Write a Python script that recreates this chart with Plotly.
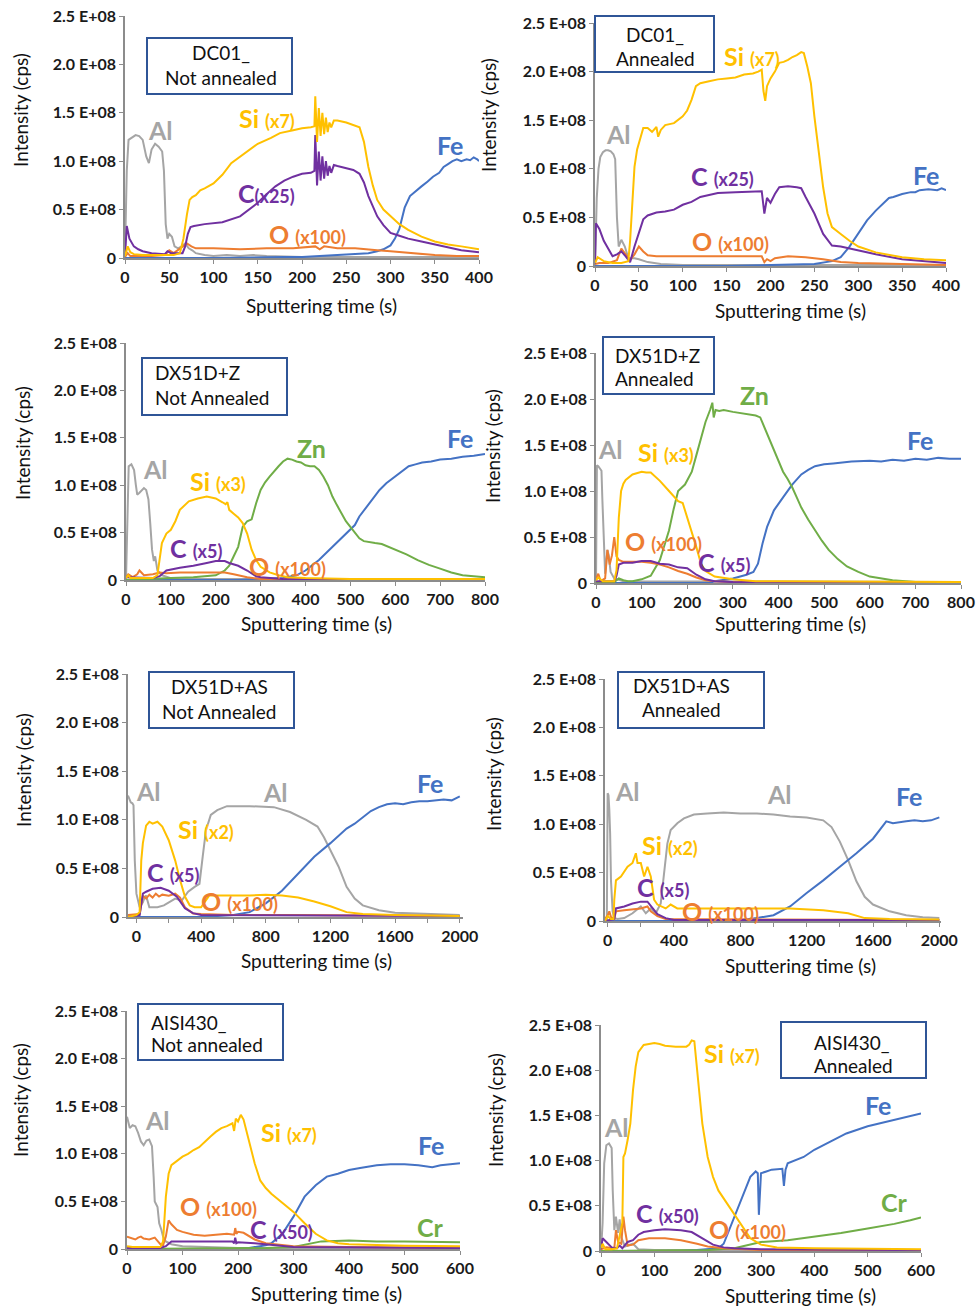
import plotly.graph_objects as go

W, H = 978, 1309
FONT = "Lato"
COL = {"Al": "#A5A5A5", "Si": "#FFC000", "C": "#7030A0", "O": "#ED7D31",
       "Fe": "#4472C4", "Zn": "#70AD47", "Cr": "#70AD47"}
SCALE = 1e8  # values below are in units of 1E+08 cps

y_tickvals = [0, 0.5, 1.0, 1.5, 2.0, 2.5]
y_ticktext = ["0", "0.5 E+08", "1.0 E+08", "1.5 E+08", "2.0 E+08", "2.5 E+08"]

# ---------------- Panel 1: DC01_ Not annealed ----------------
p1_al_t = [0, 2, 4, 8, 12, 16, 20, 24, 27, 30, 34, 38, 42, 44, 46, 48, 50, 53, 56, 60, 64, 68, 72, 76, 80, 90, 100, 115, 130, 145, 160, 200, 300, 400]
p1_al = [0.05, 0.9, 1.22, 1.25, 1.27, 1.26, 1.22, 1.05, 0.98, 1.12, 1.18, 1.15, 1.1, 0.9, 0.35, 0.2, 0.25, 0.22, 0.12, 0.1, 0.12, 0.15, 0.1, 0.08, 0.05, 0.03, 0.02, 0.03, 0.02, 0.03, 0.02, 0.01, 0.01, 0.01]
p1_si_t = [0, 3, 6, 10, 20, 40, 55, 62, 66, 70, 73, 76, 80, 85, 90, 100, 110, 120, 135, 150, 165, 175, 190, 200, 210, 214, 215, 217, 219, 221, 223, 225, 227, 229, 231, 233, 236, 240, 250, 260, 265, 270, 275, 280, 285, 292, 300, 310, 320, 335, 350, 365, 380, 400]
p1_si = [0.02, 0.12, 0.06, 0.04, 0.03, 0.03, 0.03, 0.05, 0.2, 0.45, 0.6, 0.63, 0.65, 0.7, 0.72, 0.77, 0.86, 0.98, 1.08, 1.18, 1.24, 1.29, 1.32, 1.34, 1.35, 1.36, 1.67, 1.2, 1.55, 1.26, 1.5, 1.28, 1.45, 1.3, 1.4, 1.35, 1.42, 1.42, 1.4, 1.37, 1.35, 1.2, 0.94, 0.75, 0.6, 0.5, 0.43, 0.35, 0.29, 0.22, 0.17, 0.14, 0.12, 0.09]
p1_c_t = [0, 2, 5, 10, 15, 20, 30, 45, 48, 52, 60, 65, 68, 71, 74, 78, 90, 110, 130, 140, 150, 160, 170, 180, 190, 200, 210, 214, 215, 217, 219, 221, 223, 225, 227, 229, 231, 233, 236, 240, 250, 258, 265, 270, 275, 280, 285, 292, 300, 310, 320, 335, 350, 365, 380, 400]
p1_c = [0.02, 0.33, 0.2, 0.12, 0.09, 0.07, 0.05, 0.04, 0.07, 0.05, 0.05, 0.05, 0.12, 0.25, 0.32, 0.33, 0.35, 0.37, 0.43, 0.5, 0.57, 0.66, 0.74, 0.8, 0.84, 0.87, 0.88, 0.9, 1.27, 0.75, 1.1, 0.8, 1.05, 0.82, 1.0, 0.85, 0.95, 0.88, 0.96, 0.95, 0.93, 0.91, 0.87, 0.78, 0.64, 0.53, 0.43, 0.34, 0.26, 0.23, 0.2, 0.17, 0.14, 0.11, 0.08, 0.06]
p1_o_t = [0, 3, 6, 15, 30, 45, 50, 55, 62, 70, 75, 80, 100, 130, 160, 190, 215, 220, 225, 240, 260, 270, 285, 300, 325, 350, 375, 400]
p1_o = [0.01, 0.05, 0.02, 0.02, 0.02, 0.03, 0.08, 0.05, 0.1, 0.15, 0.12, 0.1, 0.1, 0.09, 0.1, 0.1, 0.12, 0.09, 0.12, 0.1, 0.1, 0.09, 0.08, 0.07, 0.05, 0.03, 0.02, 0.02]
p1_fe_t = [0, 100, 180, 200, 220, 240, 260, 275, 285, 292, 300, 305, 310, 316, 322, 328, 335, 342, 348, 355, 360, 365, 370, 375, 380, 386, 390, 394, 398, 400]
p1_fe = [0.0, 0.0, 0.01, 0.01, 0.02, 0.03, 0.04, 0.05, 0.07, 0.09, 0.13, 0.2, 0.3, 0.52, 0.64, 0.69, 0.74, 0.79, 0.84, 0.88, 0.94, 0.97, 1.0, 1.02, 1.0, 1.02, 1.01, 1.04, 1.02, 1.0]

# ---------------- Panel 2: DC01_ Annealed ----------------
p2_al_t = [0, 2, 4, 6, 9, 12, 15, 18, 21, 23, 25, 27, 30, 34, 38, 45, 50, 60, 75, 100, 200, 400]
p2_al = [0.0, 0.7, 1.0, 1.12, 1.17, 1.19, 1.19, 1.18, 1.15, 1.1, 0.5, 0.2, 0.27, 0.2, 0.08, 0.08, 0.07, 0.04, 0.02, 0.01, 0.01, 0.01]
p2_si_t = [0, 3, 10, 20, 30, 38, 40, 42, 45, 48, 51, 55, 60, 65, 70, 72, 75, 80, 90, 100, 105, 110, 115, 120, 130, 140, 150, 160, 170, 180, 186, 190, 192, 194, 196, 200, 205, 210, 215, 220, 225, 230, 235, 238, 242, 246, 250, 255, 260, 265, 270, 280, 290, 300, 320, 350, 375, 400]
p2_si = [0.03, 0.09, 0.05, 0.03, 0.03, 0.05, 0.26, 0.6, 1.02, 1.2, 1.3, 1.42, 1.42, 1.38, 1.43, 1.33, 1.4, 1.45, 1.47, 1.54, 1.6, 1.71, 1.85, 1.88, 1.9, 1.92, 1.93, 1.94, 1.97, 1.98, 2.0, 2.02, 1.8, 1.7, 1.85, 1.93, 2.0, 2.09, 2.1, 2.12, 2.15, 2.17, 2.2, 2.19, 2.05, 1.88, 1.54, 1.19, 0.81, 0.54, 0.4, 0.33, 0.26, 0.2, 0.14, 0.09, 0.07, 0.06]
p2_c_t = [0, 1, 5, 10, 15, 20, 25, 30, 35, 40, 45, 50, 55, 60, 70, 80, 90, 100, 110, 120, 130, 140, 160, 180, 190, 193, 196, 200, 205, 210, 220, 230, 235, 240, 250, 260, 270, 280, 290, 300, 320, 350, 375, 400]
p2_c = [0.02, 0.44, 0.38, 0.26, 0.18, 0.1, 0.12, 0.15, 0.1, 0.04, 0.2, 0.33, 0.48, 0.52, 0.55, 0.56, 0.58, 0.63, 0.66, 0.71, 0.73, 0.75, 0.76, 0.77, 0.77, 0.54, 0.7, 0.65, 0.74, 0.81, 0.82, 0.81, 0.8, 0.71, 0.54, 0.33, 0.21, 0.2, 0.18, 0.16, 0.12, 0.07, 0.05, 0.03]
p2_o_t = [0, 5, 15, 25, 30, 35, 40, 45, 50, 55, 60, 70, 100, 150, 190, 193, 196, 200, 205, 220, 240, 260, 280, 300, 350, 400]
p2_o = [0.02, 0.03, 0.03, 0.06, 0.18, 0.12, 0.06, 0.12, 0.2, 0.15, 0.11, 0.1, 0.1, 0.1, 0.1, 0.04, 0.07, 0.05, 0.08, 0.1, 0.09, 0.07, 0.04, 0.03, 0.02, 0.01]
p2_fe_t = [0, 150, 200, 250, 270, 280, 290, 300, 310, 320, 330, 335, 340, 350, 360, 365, 370, 380, 390, 395, 400]
p2_fe = [0.0, 0.0, 0.01, 0.02, 0.05, 0.09, 0.2, 0.33, 0.47, 0.57, 0.66, 0.7, 0.71, 0.74, 0.76, 0.76, 0.78, 0.79, 0.78, 0.8, 0.78]

# ---------------- Panel 3: DX51D+Z Not Annealed ----------------
p3_al_t = [0, 3, 6, 12, 18, 22, 25, 30, 35, 40, 45, 50, 54, 58, 62, 65, 70, 80, 100, 150, 800]
p3_al = [0.0, 0.8, 1.2, 1.22, 1.16, 1.0, 0.9, 0.92, 0.95, 0.97, 0.95, 0.85, 0.6, 0.32, 0.2, 0.25, 0.1, 0.05, 0.02, 0.01, 0.01]
p3_si_t = [0, 5, 10, 60, 70, 75, 80, 90, 100, 110, 120, 140, 160, 180, 200, 215, 222, 226, 230, 240, 250, 260, 270, 280, 290, 300, 320, 340, 360, 400, 500, 800]
p3_si = [0.02, 0.05, 0.02, 0.02, 0.05, 0.2, 0.39, 0.49, 0.53, 0.62, 0.74, 0.83, 0.86, 0.88, 0.86, 0.82, 0.8, 0.82, 0.74, 0.7, 0.66, 0.6, 0.49, 0.32, 0.21, 0.14, 0.08, 0.05, 0.03, 0.02, 0.01, 0.01]
p3_c_t = [0, 60, 75, 80, 90, 120, 150, 180, 200, 220, 230, 250, 270, 290, 300, 350, 800]
p3_c = [0.03, 0.02, 0.04, 0.06, 0.1, 0.13, 0.15, 0.18, 0.2, 0.2, 0.18, 0.15, 0.1, 0.04, 0.03, 0.01, 0.0]
p3_o_t = [0, 5, 15, 25, 30, 35, 40, 60, 75, 90, 120, 180, 220, 240, 270, 300, 800]
p3_o = [0.03, 0.06, 0.03, 0.06, 0.1, 0.08, 0.05, 0.06, 0.08, 0.07, 0.08, 0.08, 0.08, 0.06, 0.03, 0.01, 0.01]
p3_zn_t = [0, 80, 100, 150, 200, 220, 230, 240, 250, 260, 270, 280, 290, 300, 310, 320, 330, 340, 350, 360, 370, 380, 390, 400, 410, 420, 430, 440, 450, 460, 470, 480, 490, 500, 510, 520, 530, 540, 555, 570, 585, 600, 625, 650, 675, 700, 725, 750, 775, 800]
p3_zn = [0.0, 0.01, 0.02, 0.03, 0.05, 0.1, 0.15, 0.25, 0.35, 0.56, 0.62, 0.64, 0.81, 0.95, 1.03, 1.09, 1.15, 1.2, 1.25, 1.28, 1.27, 1.25, 1.24, 1.21, 1.2, 1.2, 1.16, 1.09, 1.0, 0.88, 0.79, 0.7, 0.62, 0.56, 0.5, 0.44, 0.41, 0.4, 0.39, 0.38, 0.35, 0.32, 0.27, 0.21, 0.16, 0.12, 0.08, 0.05, 0.04, 0.03]
p3_fe_t = [0, 250, 300, 350, 380, 400, 430, 460, 480, 500, 510, 520, 535, 550, 565, 580, 600, 615, 630, 645, 660, 680, 700, 725, 750, 775, 800]
p3_fe = [0.0, 0.0, 0.01, 0.02, 0.05, 0.1, 0.21, 0.35, 0.44, 0.53, 0.58, 0.67, 0.76, 0.85, 0.95, 1.02, 1.09, 1.15, 1.2, 1.22, 1.24, 1.25, 1.27, 1.28, 1.3, 1.31, 1.33]

# ---------------- Panel 4: DX51D+Z Annealed ----------------
p4_al_t = [0, 2, 5, 8, 12, 14, 16, 18, 20, 23, 25, 28, 32, 40, 60, 800]
p4_al = [0.0, 1.28, 1.27, 1.25, 1.22, 0.9, 0.57, 0.2, 0.1, 0.25, 0.36, 0.3, 0.12, 0.05, 0.02, 0.01]
p4_si_t = [0, 5, 15, 40, 45, 50, 55, 60, 65, 80, 100, 110, 120, 140, 160, 180, 190, 200, 210, 220, 230, 240, 260, 300, 350, 400, 800]
p4_si = [0.03, 0.06, 0.02, 0.02, 0.14, 0.71, 1.0, 1.08, 1.12, 1.18, 1.21, 1.2, 1.2, 1.11, 1.0, 0.89, 0.87, 0.71, 0.57, 0.39, 0.21, 0.13, 0.07, 0.04, 0.02, 0.02, 0.01]
p4_o_t = [0, 5, 10, 20, 25, 30, 35, 40, 45, 50, 60, 80, 100, 120, 140, 160, 180, 200, 220, 240, 260, 300, 800]
p4_o = [0.05, 0.1, 0.02, 0.05, 0.36, 0.2, 0.3, 0.5, 0.29, 0.25, 0.23, 0.23, 0.23, 0.22, 0.2, 0.17, 0.13, 0.1, 0.06, 0.03, 0.02, 0.01, 0.01]
p4_c_t = [0, 40, 45, 50, 60, 80, 100, 120, 140, 160, 180, 200, 220, 240, 260, 300, 800]
p4_c = [0.02, 0.02, 0.08, 0.2, 0.22, 0.22, 0.24, 0.24, 0.21, 0.2, 0.17, 0.16, 0.09, 0.04, 0.02, 0.01, 0.0]
p4_zn_t = [0, 40, 50, 60, 70, 80, 100, 120, 140, 150, 160, 170, 180, 195, 210, 220, 230, 240, 250, 255, 258, 262, 270, 280, 300, 330, 350, 360, 370, 380, 390, 400, 410, 420, 430, 440, 450, 465, 480, 495, 510, 530, 550, 575, 600, 650, 700, 800]
p4_zn = [0.0, 0.01, 0.05, 0.03, 0.02, 0.02, 0.04, 0.08, 0.25, 0.4, 0.57, 0.8, 1.0, 1.07, 1.21, 1.39, 1.57, 1.75, 1.88, 1.96, 1.8, 1.88, 1.87, 1.88, 1.86, 1.84, 1.82, 1.8, 1.68, 1.56, 1.43, 1.32, 1.21, 1.13, 1.04, 0.93, 0.82, 0.69, 0.57, 0.46, 0.36, 0.26, 0.18, 0.12, 0.07, 0.03, 0.01, 0.01]
p4_fe_t = [0, 250, 260, 300, 330, 345, 355, 365, 375, 390, 410, 430, 450, 465, 480, 500, 520, 560, 600, 625, 650, 675, 700, 725, 750, 775, 800]
p4_fe = [0.0, 0.0, 0.02, 0.05, 0.09, 0.12, 0.21, 0.43, 0.61, 0.79, 0.93, 1.07, 1.18, 1.23, 1.27, 1.29, 1.3, 1.32, 1.33, 1.32, 1.34, 1.33, 1.35, 1.34, 1.36, 1.35, 1.35]

# ---------------- Panel 5: DX51D+AS Not Annealed ----------------
p5_al_t = [-52, -45, -35, -25, -18, -10, 0, 20, 40, 50, 60, 80, 130, 170, 200, 240, 280, 320, 360, 390, 410, 430, 460, 500, 560, 700, 850, 950, 1050, 1120, 1160, 1200, 1250, 1300, 1350, 1400, 1500, 1600, 1800, 2000]
p5_al = [1.25, 1.22, 1.18, 1.17, 1.15, 0.58, 0.24, 0.1, 0.15, 0.2, 0.22, 0.1, 0.1, 0.12, 0.15, 0.19, 0.17, 0.26, 0.31, 0.34, 0.62, 0.89, 1.05, 1.1, 1.14, 1.14, 1.13, 1.08, 1.0, 0.93, 0.82, 0.69, 0.52, 0.31, 0.19, 0.12, 0.07, 0.045, 0.03, 0.02]
p5_si_t = [-52, 0, 20, 30, 40, 60, 80, 100, 130, 160, 200, 240, 270, 300, 330, 360, 400, 430, 450, 500, 600, 700, 800, 900, 1000, 1100, 1200, 1300, 1400, 1600, 2000]
p5_si = [0.0, 0.02, 0.05, 0.58, 0.76, 0.94, 0.98, 0.96, 0.98, 0.93, 0.79, 0.58, 0.38, 0.21, 0.12, 0.1, 0.1, 0.17, 0.22, 0.22, 0.22, 0.22, 0.23, 0.22, 0.2, 0.16, 0.11, 0.05, 0.03, 0.02, 0.01]
p5_c_t = [-52, 20, 40, 60, 100, 150, 200, 250, 300, 350, 400, 2000]
p5_c = [0.0, 0.02, 0.24, 0.26, 0.29, 0.3, 0.27, 0.21, 0.09, 0.04, 0.02, 0.01]
p5_o_t = [-52, 20, 40, 60, 80, 100, 120, 140, 160, 200, 240, 270, 300, 350, 400, 600, 1000, 2000]
p5_o = [0.02, 0.03, 0.22, 0.19, 0.23, 0.2, 0.24, 0.21, 0.23, 0.22, 0.24, 0.2, 0.1, 0.035, 0.03, 0.02, 0.02, 0.01]
p5_fe_t = [-52, 400, 500, 600, 700, 800, 900, 1000, 1100, 1200, 1300, 1350, 1400, 1450, 1500, 1550, 1600, 1650, 1700, 1750, 1800, 1850, 1900, 1950, 2000]
p5_fe = [0.0, 0.0, 0.01, 0.02, 0.05, 0.14, 0.27, 0.45, 0.62, 0.76, 0.91, 0.96, 1.03, 1.09, 1.13, 1.16, 1.17, 1.16, 1.18, 1.19, 1.19, 1.2, 1.21, 1.2, 1.24]

# ---------------- Panel 6: DX51D+AS Annealed ----------------
p6_al_t = [-16, -5, 0, 5, 10, 15, 20, 25, 30, 40, 60, 100, 150, 200, 230, 260, 290, 320, 340, 360, 380, 420, 460, 520, 600, 700, 800, 900, 1000, 1100, 1200, 1300, 1350, 1400, 1450, 1500, 1550, 1600, 1700, 1800, 1900, 2000]
p6_al = [0.0, 0.0, 1.32, 1.3, 1.15, 0.9, 0.42, 0.3, 0.1, 0.03, 0.02, 0.03, 0.08, 0.15, 0.08, 0.13, 0.08, 0.18, 0.46, 0.8, 0.94, 1.01, 1.06, 1.1, 1.11, 1.12, 1.11, 1.11, 1.1, 1.08, 1.07, 1.04, 0.97, 0.82, 0.63, 0.41, 0.25, 0.17, 0.1, 0.06, 0.04, 0.03]
p6_si_t = [-16, 0, 20, 35, 40, 50, 80, 120, 150, 170, 180, 200, 220, 240, 260, 280, 300, 350, 380, 420, 500, 800, 1100, 1300, 1450, 1550, 1700, 2000]
p6_si = [0.0, 0.05, 0.02, 0.02, 0.22, 0.42, 0.46, 0.56, 0.6, 0.7, 0.6, 0.6, 0.46, 0.56, 0.46, 0.22, 0.17, 0.13, 0.17, 0.13, 0.13, 0.13, 0.13, 0.11, 0.08, 0.03, 0.02, 0.015]
p6_c_t = [-16, 40, 50, 100, 150, 200, 240, 270, 300, 350, 400, 2000]
p6_c = [0.0, 0.02, 0.13, 0.15, 0.18, 0.2, 0.2, 0.13, 0.07, 0.03, 0.01, 0.01]
p6_o_t = [-16, 0, 10, 20, 40, 50, 100, 150, 200, 240, 260, 300, 350, 2000]
p6_o = [0.02, 0.06, 0.1, 0.04, 0.02, 0.1, 0.11, 0.12, 0.13, 0.15, 0.1, 0.05, 0.02, 0.01]
p6_fe_t = [-16, 700, 800, 900, 1000, 1100, 1200, 1300, 1400, 1500, 1600, 1650, 1680, 1720, 1750, 1800, 1850, 1900, 1950, 2000]
p6_fe = [0.0, 0.0, 0.01, 0.03, 0.06, 0.15, 0.29, 0.42, 0.56, 0.7, 0.85, 0.97, 1.03, 1.01, 1.02, 1.03, 1.04, 1.03, 1.04, 1.07]

# ---------------- Panel 7: AISI430_ Not annealed ----------------
p7_al_t = [0, 5, 10, 15, 20, 25, 30, 35, 40, 45, 48, 50, 55, 58, 62, 65, 70, 80, 100, 150, 200, 600]
p7_al = [1.39, 1.27, 1.3, 1.29, 1.22, 1.13, 1.09, 1.14, 1.15, 1.08, 0.76, 0.5, 0.44, 0.27, 0.2, 0.13, 0.08, 0.05, 0.03, 0.02, 0.01, 0.01]
p7_si_t = [0, 10, 60, 65, 70, 75, 80, 90, 100, 110, 120, 130, 140, 150, 160, 170, 180, 190, 193, 196, 200, 205, 210, 220, 230, 240, 250, 260, 280, 300, 320, 340, 360, 380, 400, 450, 500, 600]
p7_si = [0.03, 0.02, 0.02, 0.08, 0.55, 0.79, 0.88, 0.93, 0.97, 1.0, 1.04, 1.07, 1.13, 1.18, 1.23, 1.27, 1.29, 1.32, 1.24, 1.37, 1.34, 1.41, 1.36, 1.14, 0.9, 0.72, 0.64, 0.58, 0.48, 0.39, 0.27, 0.16, 0.09, 0.06, 0.05, 0.04, 0.035, 0.03]
p7_o_t = [0, 5, 10, 15, 20, 25, 30, 40, 50, 60, 65, 70, 75, 80, 90, 100, 120, 140, 160, 180, 193, 195, 197, 200, 210, 230, 250, 280, 300, 400, 600]
p7_o = [0.13, 0.12, 0.11, 0.1, 0.12, 0.13, 0.11, 0.1, 0.12, 0.05, 0.04, 0.13, 0.3, 0.26, 0.2, 0.18, 0.15, 0.14, 0.15, 0.16, 0.15, 0.22, 0.16, 0.18, 0.17, 0.1, 0.06, 0.04, 0.03, 0.02, 0.01]
p7_c_t = [0, 60, 70, 80, 100, 150, 190, 193, 195, 197, 200, 230, 260, 300, 600]
p7_c = [0.01, 0.01, 0.03, 0.08, 0.08, 0.08, 0.08, 0.06, 0.12, 0.06, 0.07, 0.06, 0.04, 0.02, 0.01]
p7_fe_t = [0, 200, 220, 250, 260, 280, 300, 320, 340, 360, 380, 400, 420, 450, 475, 500, 525, 550, 565, 580, 600]
p7_fe = [0.0, 0.0, 0.01, 0.04, 0.06, 0.16, 0.34, 0.55, 0.67, 0.76, 0.79, 0.83, 0.85, 0.88, 0.89, 0.89, 0.88, 0.86, 0.88, 0.89, 0.9]
p7_cr_t = [0, 250, 300, 350, 400, 450, 500, 600]
p7_cr = [0.0, 0.01, 0.02, 0.08, 0.09, 0.08, 0.08, 0.07]

# ---------------- Panel 8: AISI430_ Annealed ----------------
p8_al_t = [0, 3, 6, 10, 15, 20, 22, 25, 28, 32, 35, 38, 45, 60, 70, 100, 600]
p8_al = [0.0, 0.31, 0.97, 1.17, 1.19, 1.14, 0.67, 0.23, 0.38, 0.2, 0.35, 0.15, 0.05, 0.08, 0.02, 0.01, 0.01]
p8_si_t = [0, 3, 8, 20, 30, 40, 42, 45, 50, 55, 60, 65, 70, 80, 90, 100, 110, 120, 140, 160, 165, 170, 175, 180, 190, 200, 210, 220, 240, 260, 280, 300, 330, 400, 600]
p8_si = [0.03, 0.08, 0.02, 0.02, 0.03, 0.31, 1.04, 1.08, 1.23, 1.41, 1.78, 2.04, 2.2, 2.28, 2.29, 2.3, 2.29, 2.27, 2.26, 2.26, 2.28, 2.33, 2.32, 2.04, 1.41, 1.04, 0.82, 0.67, 0.49, 0.31, 0.14, 0.07, 0.04, 0.03, 0.02]
p8_c_t = [0, 3, 10, 20, 30, 35, 40, 50, 60, 70, 80, 100, 120, 150, 170, 190, 210, 230, 250, 300, 600]
p8_c = [0.02, 0.14, 0.1, 0.04, 0.03, 0.06, 0.03, 0.1, 0.12, 0.18, 0.21, 0.23, 0.24, 0.23, 0.21, 0.14, 0.07, 0.04, 0.03, 0.02, 0.01]
p8_o_t = [0, 10, 25, 28, 32, 38, 42, 45, 50, 60, 70, 90, 120, 150, 180, 200, 230, 260, 300, 600]
p8_o = [0.02, 0.04, 0.03, 0.23, 0.1, 0.08, 0.38, 0.23, 0.06, 0.07, 0.12, 0.14, 0.14, 0.12, 0.08, 0.05, 0.03, 0.02, 0.01, 0.01]
p8_fe_t = [0, 150, 180, 220, 230, 240, 250, 260, 270, 280, 290, 294, 296, 300, 310, 320, 340, 343, 346, 350, 380, 400, 430, 460, 500, 550, 600]
p8_fe = [0.0, 0.0, 0.01, 0.03, 0.08, 0.23, 0.38, 0.53, 0.67, 0.82, 0.88, 0.86, 0.4, 0.86, 0.88, 0.9, 0.91, 0.72, 0.9, 0.97, 1.04, 1.12, 1.21, 1.3, 1.38, 1.45, 1.52]
p8_cr_t = [0, 200, 250, 300, 350, 400, 450, 500, 550, 580, 600]
p8_cr = [0.0, 0.01, 0.03, 0.1, 0.12, 0.16, 0.2, 0.25, 0.3, 0.34, 0.37]

# ---------------- text ----------------
box_titles = [("DC01_", "Not annealed"), ("DC01_", "Annealed"),
              ("DX51D+Z", "Not Annealed"), ("DX51D+Z", "Annealed"),
              ("DX51D+AS", "Not Annealed"), ("DX51D+AS", "Annealed"),
              ("AISI430_", "Not annealed"), ("AISI430_", "Annealed")]

series = [
    [("Al", p1_al_t, p1_al), ("Fe", p1_fe_t, p1_fe), ("O", p1_o_t, p1_o), ("C", p1_c_t, p1_c), ("Si", p1_si_t, p1_si)],
    [("Al", p2_al_t, p2_al), ("Fe", p2_fe_t, p2_fe), ("O", p2_o_t, p2_o), ("C", p2_c_t, p2_c), ("Si", p2_si_t, p2_si)],
    [("Al", p3_al_t, p3_al), ("Fe", p3_fe_t, p3_fe), ("Zn", p3_zn_t, p3_zn), ("O", p3_o_t, p3_o), ("C", p3_c_t, p3_c), ("Si", p3_si_t, p3_si)],
    [("Al", p4_al_t, p4_al), ("Fe", p4_fe_t, p4_fe), ("Zn", p4_zn_t, p4_zn), ("O", p4_o_t, p4_o), ("C", p4_c_t, p4_c), ("Si", p4_si_t, p4_si)],
    [("Al", p5_al_t, p5_al), ("Fe", p5_fe_t, p5_fe), ("O", p5_o_t, p5_o), ("C", p5_c_t, p5_c), ("Si", p5_si_t, p5_si)],
    [("Al", p6_al_t, p6_al), ("Fe", p6_fe_t, p6_fe), ("O", p6_o_t, p6_o), ("C", p6_c_t, p6_c), ("Si", p6_si_t, p6_si)],
    [("Al", p7_al_t, p7_al), ("Fe", p7_fe_t, p7_fe), ("Cr", p7_cr_t, p7_cr), ("O", p7_o_t, p7_o), ("C", p7_c_t, p7_c), ("Si", p7_si_t, p7_si)],
    [("Al", p8_al_t, p8_al), ("Fe", p8_fe_t, p8_fe), ("Cr", p8_cr_t, p8_cr), ("O", p8_o_t, p8_o), ("C", p8_c_t, p8_c), ("Si", p8_si_t, p8_si)],
]

# ---------------- layout geometry (pixels) ----------------
frames = [
    dict(l=125, r=479, t=16, b=258, xr=[0, 400], dt=50, minor=None),
    dict(l=595, r=946, t=23, b=266, xr=[0, 400], dt=50, minor=None),
    dict(l=126, r=485, t=343, b=580, xr=[0, 800], dt=100, minor=None),
    dict(l=596, r=961, t=353, b=583, xr=[0, 800], dt=100, minor=None),
    dict(l=128, r=463, t=674, b=917, xr=[-52, 2020], dt=400, minor=200),
    dict(l=605, r=941, t=679, b=921, xr=[-16, 2010], dt=400, minor=200),
    dict(l=127, r=460, t=1011, b=1249, xr=[0, 600], dt=100, minor=None),
    dict(l=601, r=921, t=1025, b=1251, xr=[0, 600], dt=100, minor=None),
]
boxes = [  # x0, y0, x1, y1, text anchor mode, text x, line1 y, line2 y
    (147, 38, 292, 94, "center", 221, 52, 77),
    (595, 16, 714, 72, "center", 655, 34, 58),
    (142, 358, 287, 415, "left", 153, 372, 397),
    (603, 337, 714, 394, "left", 613, 355, 379),
    (149, 672, 294, 728, "center", 219, 686, 711),
    (618, 672, 764, 728, "center", 681, 685, 709),
    (138, 1004, 283, 1060, "left", 149, 1022, 1044),
    (781, 1022, 926, 1078, "left", 812, 1042, 1065),
]
ytitle_pos = [(20, 110), (489, 115), (22, 443), (492, 446), (23, 770), (493, 774), (20, 1100), (495, 1110)]
xtitle_pos = [(321, 305), (790, 310), (316, 623), (790, 623), (316, 960), (800, 965), (326, 1293), (800, 1295)]

def lab(el, mult=None, gap=True):
    s = el
    if mult:
        s += (" " if gap else "") + "<span style='font-size:18px'>(" + mult + ")</span>"
    return s

labels = [
    [("Al", None, 160, 130), ("Si", "x7", 267, 118), ("C", "x25", 266, 193, False), ("O", "x100", 307, 234), ("Fe", None, 450, 145)],
    [("Al", None, 618, 134), ("Si", "x7", 752, 56), ("C", "x25", 722, 176), ("O", "x100", 730, 241), ("Fe", None, 926, 175)],
    [("Al", None, 155, 469), ("Si", "x3", 218, 481), ("C", "x5", 196, 548), ("O", "x100", 287, 566), ("Zn", None, 311, 448), ("Fe", None, 460, 438)],
    [("Al", None, 610, 449), ("Si", "x3", 666, 452), ("O", "x100", 663, 541), ("C", "x5", 724, 562), ("Zn", None, 754, 395), ("Fe", None, 920, 440)],
    [("Al", None, 148, 791), ("Si", "x2", 206, 829), ("C", "x5", 173, 872), ("O", "x100", 239, 901), ("Al", None, 275, 792), ("Fe", None, 430, 783)],
    [("Al", None, 627, 791), ("Si", "x2", 670, 845), ("C", "x5", 663, 887), ("O", "x100", 720, 911), ("Al", None, 779, 794), ("Fe", None, 909, 796)],
    [("Al", None, 157, 1120), ("Si", "x7", 289, 1132), ("O", "x100", 218, 1206), ("C", "x50", 281, 1229), ("Fe", None, 431, 1145), ("Cr", None, 430, 1227)],
    [("Al", None, 616, 1127), ("Si", "x7", 732, 1053), ("C", "x50", 667, 1213), ("O", "x100", 747, 1229), ("Fe", None, 878, 1105), ("Cr", None, 894, 1202)],
]

def px(x):
    return x / W

def py(y):
    return 1 - y / H

fig = go.Figure()
layout = dict(width=W, height=H, autosize=False, margin=dict(l=0, r=0, t=0, b=0, pad=0, autoexpand=False),
              paper_bgcolor="white", plot_bgcolor="white", showlegend=False,
              font=dict(family=FONT, size=17, color="#1a1a1a"))
annotations = []
shapes = []
AXC = "#8C8C8C"
TICKFONT = dict(family=FONT, size=16, color="#1a1a1a", weight="bold")

for i, (fr, ser) in enumerate(zip(frames, series)):
    n = "" if i == 0 else str(i + 1)
    xa, ya = "x" + n, "y" + n
    for name, t, v in ser:
        fig.add_trace(go.Scatter(x=t, y=[val * SCALE for val in v], mode="lines",
                                 line=dict(color=COL[name], width=2), xaxis=xa, yaxis=ya,
                                 name=name, hoverinfo="skip"))
    xd = dict(domain=[px(fr["l"]), px(fr["r"])], range=fr["xr"], anchor=ya, automargin=False,
              tick0=0, dtick=fr["dt"], showgrid=False, zeroline=False,
              showline=True, linecolor=AXC, linewidth=1.5,
              ticks="outside", ticklen=4, tickcolor=AXC, tickwidth=1, tickfont=TICKFONT)
    if fr["minor"]:
        xd["minor"] = dict(dtick=fr["minor"], tick0=0, ticks="outside", ticklen=4, tickcolor=AXC)
    yd = dict(domain=[py(fr["b"]), py(fr["t"])], range=[0, 2.5 * SCALE], anchor=xa, automargin=False,
              tickvals=[v * SCALE for v in y_tickvals], ticktext=y_ticktext,
              showgrid=False, zeroline=False, showline=True, linecolor=AXC, linewidth=1.5,
              ticks="outside", ticklen=4, tickcolor=AXC, tickwidth=1, tickfont=TICKFONT)
    layout["xaxis" + n] = xd
    layout["yaxis" + n] = yd

    # sample box
    x0, y0, x1, y1, mode, tx, l1, l2 = boxes[i]
    shapes.append(dict(type="rect", xref="paper", yref="paper", x0=px(x0), x1=px(x1),
                       y0=py(y1), y1=py(y0), line=dict(color="#2F5597", width=2),
                       fillcolor="rgba(255,255,255,0)"))
    for txt, yy in zip(box_titles[i], (l1, l2)):
        annotations.append(dict(text=txt, x=px(tx), y=py(yy), xref="paper", yref="paper",
                                xanchor="center" if mode == "center" else "left", yanchor="middle",
                                showarrow=False, font=dict(family=FONT, size=19, color="#111111")))
    # axis titles
    yx, yy = ytitle_pos[i]
    annotations.append(dict(text="Intensity (cps)", x=px(yx), y=py(yy), xref="paper", yref="paper",
                            textangle=-90, xanchor="center", yanchor="middle", showarrow=False,
                            font=dict(family=FONT, size=19, color="#111111")))
    xx, xy = xtitle_pos[i]
    annotations.append(dict(text="Sputtering time (s)", x=px(xx), y=py(xy), xref="paper", yref="paper",
                            xanchor="center", yanchor="middle", showarrow=False,
                            font=dict(family=FONT, size=19, color="#111111")))
    # element labels
    for item in labels[i]:
        el, mult, lx, ly = item[0], item[1], item[2], item[3]
        gap = item[4] if len(item) > 4 else True
        annotations.append(dict(text=lab(el, mult, gap), x=px(lx), y=py(ly), xref="paper", yref="paper",
                                xanchor="center", yanchor="middle", showarrow=False,
                                font=dict(family=FONT, size=25, color=COL[el], weight="bold")))

layout["annotations"] = annotations
layout["shapes"] = shapes
fig.update_layout(**layout)
fig.write_html("out.html")
